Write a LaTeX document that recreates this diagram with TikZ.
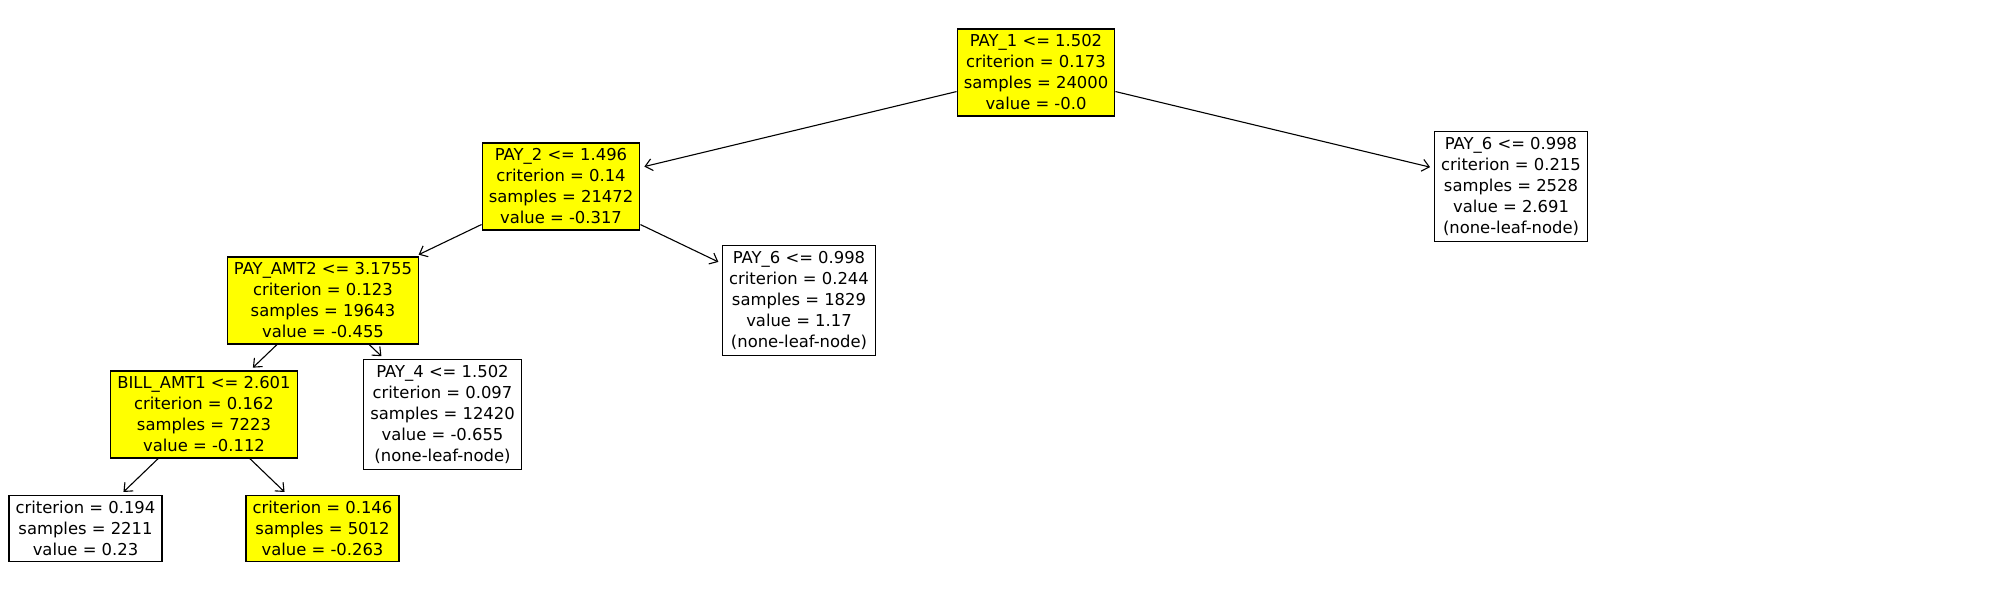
\documentclass[tikz,border=0pt]{standalone}
\usepackage{fontspec}
\setmainfont{DejaVu Sans}
\usepackage{tikz}
\usetikzlibrary{arrows.meta}
\definecolor{splityellow}{rgb}{1,1,0}

\tikzset{
	treebox/.style={draw, line width=0.6pt, align=center, inner xsep=3.3pt, inner ysep=2.9pt, font=\fontsize{8.2pt}{10.5pt}\selectfont},
	splitbox/.style={treebox, fill=splityellow},
	edge/.style={->, line width=0.55pt, shorten >=2pt}
}

\begin{document}
\begin{tikzpicture}[node distance=57pt, >={Straight Barb[length=3.5pt,width=6pt]}]
				\useasboundingbox (0,0) rectangle (1000pt,-300pt);
				\node (pay1) [splitbox] at (518pt,-36.25pt) {PAY\_1 <= 1.502\\criterion = 0.173\\samples = 24000\\value = -0.0};
				\node (pay2) [splitbox, below of=pay1, xshift=-237.5pt] {PAY\_2 <= 1.496\\criterion = 0.14\\samples = 21472\\value = -0.317};
				\node (pay6r) [treebox, below of=pay1, xshift=237.5pt] {PAY\_6 <= 0.998\\criterion = 0.215\\samples = 2528\\value = 2.691\\(none-leaf-node)};
				\node (payamt2) [splitbox, below of=pay2, xshift=-119pt] {PAY\_AMT2 <= 3.1755\\criterion = 0.123\\samples = 19643\\value = -0.455};
				\node (pay6l) [treebox, below of=pay2, xshift=119pt] {PAY\_6 <= 0.998\\criterion = 0.244\\samples = 1829\\value = 1.17\\(none-leaf-node)};
				\node (billamt1) [splitbox, below of=payamt2, xshift=-59.5pt] {BILL\_AMT1 <= 2.601\\criterion = 0.162\\samples = 7223\\value = -0.112};
				\node (pay4) [treebox, below of=payamt2, xshift=59.75pt] {PAY\_4 <= 1.502\\criterion = 0.097\\samples = 12420\\value = -0.655\\(none-leaf-node)};
				\node (leafl) [treebox, below of=billamt1, xshift=-59.25pt] {criterion = 0.194\\samples = 2211\\value = 0.23};
				\node (leafr) [splitbox, below of=billamt1, xshift=59.25pt] {criterion = 0.146\\samples = 5012\\value = -0.263};
				
				\draw [edge] (pay1) -- (pay2);
				\draw [edge] (pay1) -- (pay6r);
				\draw [edge] (pay2) -- (payamt2);
				\draw [edge] (pay2) -- (pay6l);
				\draw [edge] (payamt2) -- (billamt1);
				\draw [edge] (payamt2) -- (pay4);
				\draw [edge] (billamt1) -- (leafl);
				\draw [edge] (billamt1) -- (leafr);
			\end{tikzpicture}
\end{document}
